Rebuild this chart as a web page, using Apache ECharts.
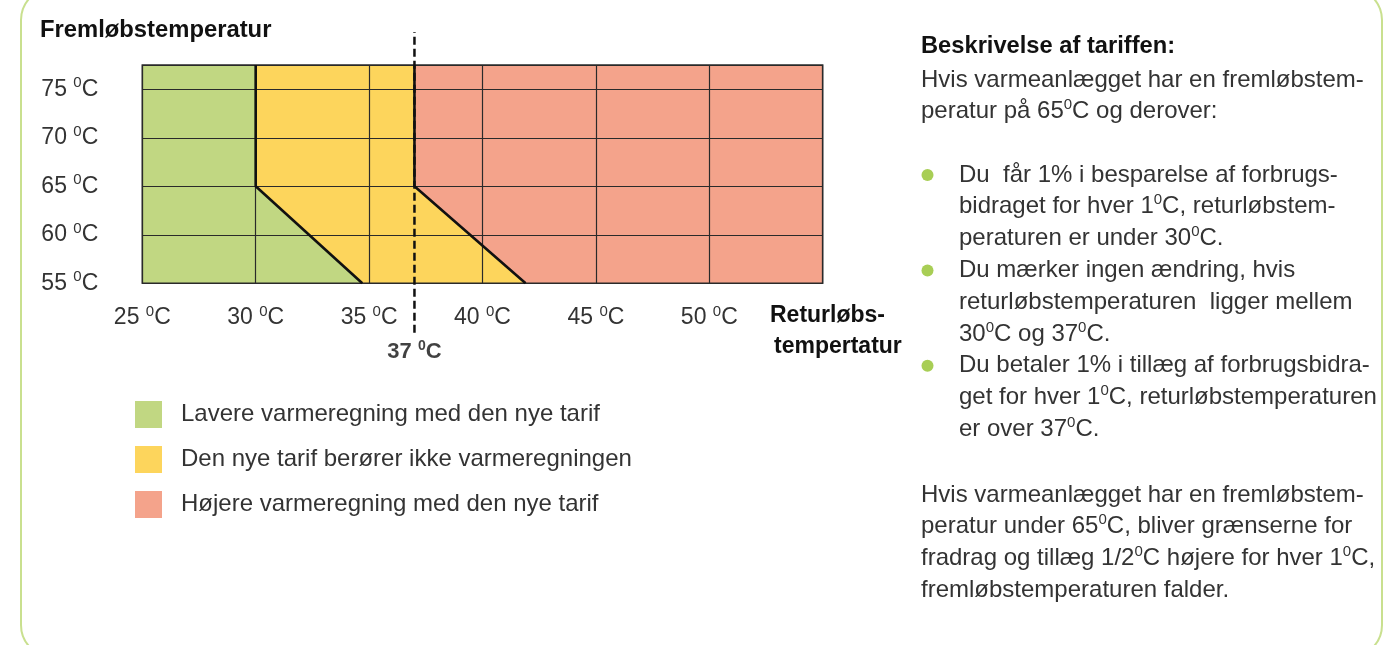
<!DOCTYPE html>
<html><head><meta charset="utf-8">
<script src="https://cdn.jsdelivr.net/npm/echarts@6/dist/echarts.min.js"></script>
<style>html,body{margin:0;padding:0;background:#fff}#c{width:1383px;height:645px}</style>
</head><body><div id="c"></div>
<script>
// ---- data ----
const xTicks = [25, 30, 35, 40, 45, 50];
const yTicks = [55, 60, 65, 70, 75];
const xRange = [25, 55];
const yRange = [55, 77.5];
const lowerBoundary = [[30, 77.5], [30, 65], [34.7, 55]];   // green | yellow
const upperBoundary = [[37, 77.5], [37, 65], [41.9, 55]];   // yellow | red
const markerX = 37;
const markerExtent = [49.9, 80.9];
const regionNames = ['Lavere varmeregning med den nye tarif', 'Den nye tarif berører ikke varmeregningen', 'Højere varmeregning med den nye tarif'];
const regionColors = ['#C1D782', '#FDD55C', '#F4A38B'];
const yTitle = 'Fremløbstemperatur';
const xTitle = ['Returløbs-', 'tempertatur'];
const panelTitle = 'Beskrivelse af tariffen:';
const panelIntro = ['Hvis varmeanlægget har en fremløbstem-', 'peratur på 65^0C og derover:'];
const bullets = [
  ['Du  får 1% i besparelse af forbrugs-', 'bidraget for hver 1^0C, returløbstem-', 'peraturen er under 30^0C.'],
  ['Du mærker ingen ændring, hvis', 'returløbstemperaturen  ligger mellem', '30^0C og 37^0C.'],
  ['Du betaler 1% i tillæg af forbrugsbidra-', 'get for hver 1^0C, returløbstemperaturen', 'er over 37^0C.']
];
const panelOutro = ['Hvis varmeanlægget har en fremløbstem-', 'peratur under 65^0C, bliver grænserne for', 'fradrag og tillæg 1/2^0C højere for hver 1^0C,', 'fremløbstemperaturen falder.'];

// ---- helpers ----
const FONT = '"Liberation Sans", Arial, sans-serif';
const sup = s => s.split('^0').map(p => p ? `{n|${p}}` : '').join('{s|0}');
function richOpt(size, weight, color) {
  return {
    n: {fontSize: size, fontWeight: weight, fontFamily: FONT, color: color, lineHeight: size + 4, verticalAlign: 'middle'},
    s: {fontSize: Math.round(size * 0.64), fontWeight: weight, fontFamily: FONT, color: color, lineHeight: Math.round(size * 0.8), verticalAlign: 'top'}
  };
}
function richZr(size, weight, color) {
  return {
    n: {fontSize: size, fontWeight: weight, fontFamily: FONT, fill: color, lineHeight: size + 4, verticalAlign: 'middle'},
    s: {fontSize: Math.round(size * 0.64), fontWeight: weight, fontFamily: FONT, fill: color, lineHeight: Math.round(size * 0.8), verticalAlign: 'top'}
  };
}
function txt(x, y, str, size, weight, color) {
  return {type: 'text', x: x, y: y, silent: true, z: 20,
    style: {text: sup(str), rich: richZr(size, weight, color), fontSize: size, fontFamily: FONT, fill: color, verticalAlign: 'middle', align: 'left'}};
}

const greenPoly = [[xRange[0], yRange[0]], [xRange[0], yRange[1]], ...lowerBoundary];
const yellowPoly = [...lowerBoundary, ...upperBoundary.slice().reverse()];
const redPoly = [...upperBoundary, [xRange[1], yRange[0]], [xRange[1], yRange[1]]];
const polys = [greenPoly, yellowPoly, redPoly];

// ---- graphic (text panel etc.) ----
const TXT = '#333333';
const PS = 24;
const graphics = [];
graphics.push({type: 'rect', silent: true, z: 0, shape: {x: 21, y: -12, width: 1361, height: 669, r: 32},
  style: {fill: 'none', stroke: '#C9E08F', lineWidth: 2}});
graphics.push(txt(40, 30, yTitle, 23.8, 'bold', '#111'));
graphics.push(txt(770, 316, xTitle[0], 23, 'bold', '#111'));
graphics.push(txt(774, 347, xTitle[1], 23, 'bold', '#111'));
graphics.push(txt(921, 46, panelTitle, 23.7, 'bold', '#111'));
const LH = 31.8;
panelIntro.forEach((l, i) => graphics.push(txt(921, 80 + i * LH, l, PS, 'normal', TXT)));
let by = 175;
bullets.forEach(b => {
  graphics.push({type: 'circle', silent: true, z: 20, shape: {cx: 927.5, cy: by, r: 6}, style: {fill: '#A8CE55'}});
  b.forEach((l, i) => graphics.push(txt(959, by + i * LH, l, PS, 'normal', TXT)));
  by += 3 * LH;
});
panelOutro.forEach((l, i) => graphics.push(txt(921, 495 + i * LH, l, PS, 'normal', TXT)));

const chart = echarts.init(document.getElementById('c'), null, {renderer: 'canvas'});
chart.setOption({
  animation: false,
  backgroundColor: '#fff',
  grid: {left: 142.3, top: 65, width: 680.4, height: 218.3, show: true, borderColor: '#2a2a2a', borderWidth: 1.5, backgroundColor: 'transparent', z: 6},
  xAxis: {type: 'value', min: xRange[0], max: xRange[1], interval: 5, z: 5,
    axisLine: {show: false}, axisTick: {show: false},
    splitLine: {show: true, lineStyle: {color: '#2a2a2a', width: 1.2}},
    axisLabel: {margin: 21, formatter: v => xTicks.includes(v) ? sup(v + ' ^0C') : '', rich: richOpt(23, 'normal', TXT)}},
  yAxis: {type: 'value', min: yRange[0], max: yRange[1], interval: 5, z: 5,
    axisLine: {show: false}, axisTick: {show: false},
    splitLine: {show: true, lineStyle: {color: '#2a2a2a', width: 1.2}},
    axisLabel: {margin: 44, formatter: v => yTicks.includes(v) ? sup(v + ' ^0C') : '', rich: richOpt(23, 'normal', TXT)}},
  legend: {data: regionNames, orient: 'vertical', left: 135, top: 401, itemWidth: 27, itemHeight: 27, itemGap: 18,
    icon: 'rect', selectedMode: false, padding: 0,
    textStyle: {fontSize: 24, color: TXT, fontFamily: FONT, padding: [0, 0, 0, 14]}},
  graphic: graphics,
  series: [
    ...polys.map((poly, i) => ({
      type: 'custom', name: regionNames[i], coordinateSystem: 'cartesian2d', z: 1, silent: true,
      itemStyle: {color: regionColors[i]},
      data: poly,
      renderItem: (params, api) => params.dataIndex === 0 ? {
        type: 'polygon', shape: {points: poly.map(p => api.coord(p))}, style: {fill: regionColors[i]}
      } : null
    })),
    {type: 'line', data: lowerBoundary, symbol: 'none', z: 10, silent: true, lineStyle: {color: '#111', width: 2.6}},
    {type: 'line', data: upperBoundary, symbol: 'none', z: 10, silent: true, lineStyle: {color: '#111', width: 2.6}},
    {type: 'line', data: markerExtent.map(y => [markerX, y]), symbol: 'none', clip: false, z: 11, silent: true,
      lineStyle: {color: '#111', width: 2.5, type: [8, 4]}},
    {type: 'scatter', data: [[markerX, markerExtent[0]]], symbolSize: 1, clip: false, z: 12, silent: true,
      itemStyle: {color: 'rgba(0,0,0,0)'},
      label: {show: true, position: 'bottom', distance: 6, formatter: sup('37 ^0C'), rich: richOpt(22, 'bold', '#111')}}
  ]
});
</script></body></html>
